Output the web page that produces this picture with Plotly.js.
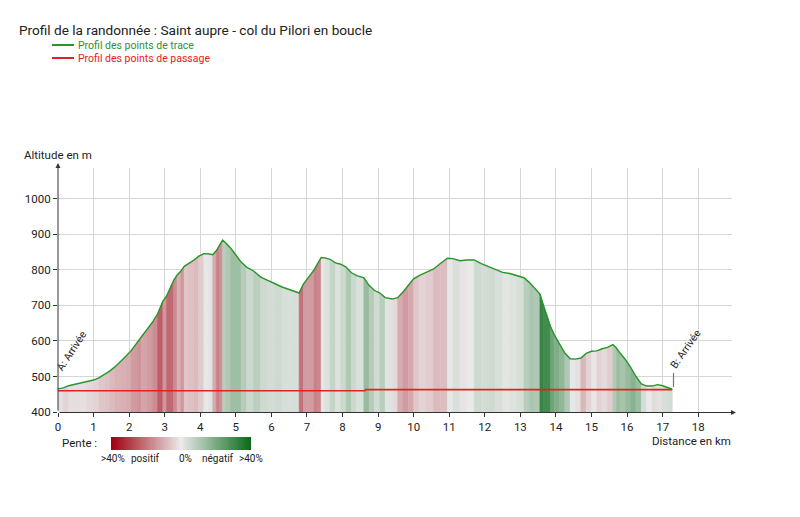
<!DOCTYPE html>
<html>
<head>
<meta charset="utf-8">
<script src="https://cdn.plot.ly/plotly-3.0.1.min.js"></script>
<style>html,body{margin:0;padding:0;background:#fff}#chart{width:800px;height:517px}</style>
</head>
<body>
<div id="chart"></div>
<script>
// ---- Data ----
const distanceKm = [0.00,0.15,0.30,0.45,0.60,0.80,1.00,1.15,1.30,1.45,1.60,1.75,1.90,2.05,2.20,2.35,2.50,2.65,2.80,2.95,3.05,3.15,3.25,3.35,3.45,3.55,3.65,3.80,3.95,4.10,4.25,4.35,4.45,4.55,4.63,4.72,4.85,5.00,5.15,5.30,5.50,5.70,5.90,6.10,6.30,6.50,6.70,6.78,6.90,7.05,7.20,7.30,7.40,7.50,7.65,7.80,7.95,8.10,8.25,8.40,8.60,8.75,8.90,9.05,9.20,9.40,9.55,9.70,9.85,10.00,10.15,10.35,10.55,10.75,10.95,11.10,11.30,11.50,11.70,11.90,12.10,12.30,12.50,12.70,12.90,13.10,13.25,13.40,13.55,13.65,13.75,13.85,13.95,14.10,14.25,14.40,14.55,14.70,14.85,15.00,15.15,15.30,15.45,15.60,15.70,15.80,15.95,16.10,16.25,16.40,16.55,16.70,16.85,17.00,17.15,17.27];
const altitudeM = [465,468,474,477,480,484,490,496,505,515,527,541,556,572,592,614,632,652,676,712,726,748,770,786,796,810,816,826,838,846,845,843,854,872,884,876,862,842,822,808,797,780,770,762,752,745,738,735,760,780,800,818,835,834,830,820,816,808,792,784,778,756,742,735,722,718,722,738,758,775,784,792,802,818,833,832,826,828,828,818,810,800,793,790,785,778,765,748,732,700,670,640,618,590,566,550,549,552,565,571,572,578,582,590,580,566,548,526,500,479,473,473,477,474,469,464];
const passageKm = [0, 8.63, 8.65, 17.27];
const passageAlt = [460, 460, 463, 463];
const xTickVals = [0,1,2,3,4,5,6,7,8,9,10,11,12,13,14,15,16,17,18];
const yTickVals = [400,500,600,700,800,900,1000];
const slopeLegendLabels = ['>40%','positif','0%','négatif','>40%'];
const slopeLegendValues = [];
for (let k = 0; k <= 120; k++) slopeLegendValues.push(0.4 - 0.8 * k / 120);

// ---- Helpers ----
const W = 800, H = 517;
const px = v => v / W;
const py = v => 1 - v / H;
const RED_END = [160, 0, 16], MID = [234, 234, 234], GREEN_END = [10, 106, 26];
function slopeColor(s) {
  const t = Math.min(1, Math.abs(s) / 0.4);
  const end = s >= 0 ? RED_END : GREEN_END;
  const c = MID.map((m, i) => Math.round(m + (end[i] - m) * t));
  return 'rgb(' + c.join(',') + ')';
}

const traces = [];
// slope-coloured fill under the profile, one band per segment
for (let i = 0; i < distanceKm.length - 1; i++) {
  const x0 = distanceKm[i], x1 = distanceKm[i + 1];
  const a0 = altitudeM[i], a1 = altitudeM[i + 1];
  const s = (a1 - a0) / ((x1 - x0) * 1000);
  const col = slopeColor(s);
  traces.push({
    type: 'scatter', mode: 'lines',
    x: [x0, x0, x1, x1, x0], y: [400, a0, a1, 400, 400],
    fill: 'toself', fillcolor: col,
    line: {width: 0.6, color: col},
    hoverinfo: 'skip', showlegend: false
  });
}
// passage points profile
traces.push({
  type: 'scatter', mode: 'lines', x: passageKm, y: passageAlt,
  line: {color: 'rgb(228,32,32)', width: 1.6}, hoverinfo: 'skip', showlegend: false
});
// trace profile
traces.push({
  type: 'scatter', mode: 'lines', x: distanceKm, y: altitudeM,
  line: {color: 'rgb(40,150,40)', width: 1.4}, hoverinfo: 'skip', showlegend: false
});
// slope legend gradient
const legendScale = [];
for (let k = 0; k <= 20; k++) {
  const v = -0.4 + 0.8 * k / 20;
  legendScale.push([k / 20, slopeColor(v)]);
}
traces.push({
  type: 'heatmap', xaxis: 'x2', yaxis: 'y2',
  z: [slopeLegendValues], x: slopeLegendValues.map((v, i) => i), y: [0],
  zmin: -0.4, zmax: 0.4, colorscale: legendScale, showscale: false, hoverinfo: 'skip'
});

const font = 'Roboto, "Open Sans", sans-serif';
const ann = [];
ann.push({xref:'paper', yref:'paper', x: px(17), y: py(30), xanchor:'left', yanchor:'middle',
  text:'Profil de la randonnée : Saint aupre - col du Pilori en boucle', showarrow:false,
  font:{family:font, size:13.6, color:'#222'}});
ann.push({xref:'paper', yref:'paper', x: px(76), y: py(45), xanchor:'left', yanchor:'middle',
  text:'Profil des points de trace', showarrow:false, font:{family:font, size:10.5, color:'rgb(40,150,40)'}});
ann.push({xref:'paper', yref:'paper', x: px(76), y: py(58), xanchor:'left', yanchor:'middle',
  text:'Profil des points de passage', showarrow:false, font:{family:font, size:10.5, color:'rgb(228,32,32)'}});
ann.push({xref:'paper', yref:'paper', x: px(22), y: py(155), xanchor:'left', yanchor:'middle',
  text:'Altitude en m', showarrow:false, font:{family:font, size:11.5, color:'#222'}});
ann.push({xref:'paper', yref:'paper', x: px(733), y: py(441), xanchor:'right', yanchor:'middle',
  text:'Distance en km', showarrow:false, font:{family:font, size:11.5, color:'#222'}});
ann.push({xref:'paper', yref:'paper', x: px(60), y: py(443), xanchor:'left', yanchor:'middle',
  text:'Pente :', showarrow:false, font:{family:font, size:11.5, color:'#222'}});
const legendLabelX = [112.5, 145, 185, 218, 251];
slopeLegendLabels.forEach((t, i) => ann.push({xref:'paper', yref:'paper', x: px(legendLabelX[i]), y: py(458),
  xanchor:'center', yanchor:'middle', text: t, showarrow:false, font:{family:font, size:10, color:'#222'}}));
ann.push({xref:'paper', yref:'paper', x: px(71), y: py(351), xanchor:'center', yanchor:'middle', textangle:-57,
  text:'A: Arrivée', showarrow:false, font:{family:font, size:10.5, color:'#222'}});
ann.push({xref:'paper', yref:'paper', x: px(685), y: py(349), xanchor:'center', yanchor:'middle', textangle:-55,
  text:'B: Arrivée', showarrow:false, font:{family:font, size:10.5, color:'#222'}});
// axis arrows
ann.push({xref:'paper', yref:'paper', x: px(736), y: py(412.5), ax:-678, ay:0, axref:'pixel', ayref:'pixel',
  showarrow:true, arrowhead:2, arrowsize:1, arrowwidth:1, arrowcolor:'#333', text:''});
ann.push({xref:'paper', yref:'paper', x: px(58), y: py(163), ax:0, ay:249, axref:'pixel', ayref:'pixel',
  showarrow:true, arrowhead:2, arrowsize:1, arrowwidth:1, arrowcolor:'#333', text:''});

const shapes = [
  {type:'line', xref:'paper', yref:'paper', x0: px(52), x1: px(74), y0: py(45), y1: py(45), line:{color:'rgb(40,150,40)', width:2}},
  {type:'line', xref:'paper', yref:'paper', x0: px(52), x1: px(74), y0: py(58), y1: py(58), line:{color:'rgb(228,32,32)', width:2}},
  {type:'line', xref:'paper', yref:'paper', x0: px(673.5), x1: px(673.5), y0: py(373), y1: py(387), line:{color:'#777', width:1.2}}
];

const layout = {
  width: W, height: H,
  margin: {l:0, r:0, t:0, b:0},
  paper_bgcolor: '#fff', plot_bgcolor: '#fff',
  showlegend: false,
  font: {family: font, color:'#222'},
  xaxis: {domain:[px(58), px(732)], range:[0, 18.95], tickvals: xTickVals, ticktext: xTickVals.map(String),
    showgrid:true, gridcolor:'#d6d6d6', gridwidth:1, zeroline:false, showline:false,
    ticks:'outside', ticklen:4, tickcolor:'#333', tickfont:{family:font, size:11.5, color:'#222'}, fixedrange:true},
  yaxis: {domain:[py(412), py(168)], range:[400, 1087], tickvals: yTickVals, ticktext: yTickVals.map(String),
    showgrid:true, gridcolor:'#d6d6d6', gridwidth:1, zeroline:false, showline:false,
    ticks:'outside', ticklen:4, tickcolor:'#333', tickfont:{family:font, size:11.5, color:'#222'}, fixedrange:true},
  xaxis2: {domain:[px(111), px(251)], anchor:'y2', visible:false, range:[-0.5, slopeLegendValues.length - 0.5], fixedrange:true},
  yaxis2: {domain:[py(450), py(437)], anchor:'x2', visible:false, range:[-0.5, 0.5], fixedrange:true},
  annotations: ann,
  shapes: shapes
};

Plotly.newPlot('chart', traces, layout, {displayModeBar:false, staticPlot:true});
</script>
</body>
</html>
